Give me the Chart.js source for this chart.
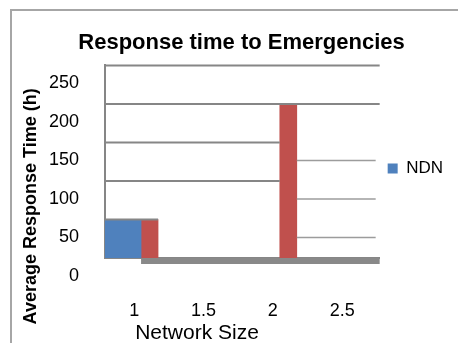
<!DOCTYPE html>
<html lang="en">
<head>
<meta charset="UTF-8">
<title>Response time to Emergencies</title>
<script src="https://cdn.jsdelivr.net/npm/chart.js"></script>
<style>
  body { margin: 0; background: #fff; }
  #wrap { position: relative; width: 458px; height: 343px; overflow: hidden; }
  #frame {
    position: absolute; left: 10px; top: 9px; right: -10px; bottom: -10px;
    border: 2px solid #a6a6a6; pointer-events: none;
  }
</style>
</head>
<body>

<div id="wrap">
  <canvas id="chart" width="458" height="343"></canvas>
  <div id="frame"></div>
</div>

<script>
  // data
  const xTicks = [1, 1.5, 2, 2.5];
  const yTicks = [0, 50, 100, 150, 200, 250];
  const ndnX = [1.05];
  const ndnY = [50];
  const otherX = [1.05, 2.05];
  const otherY = [50, 200];

  const chartTitle = 'Response time to Emergencies';
  const xTitle = 'Network Size';
  const yTitle = 'Average Response Time (h)';

  const FONT = '"Liberation Sans", Arial, sans-serif';
  const GRID = '#868686';
  const DEPTH = 18; // the labels and back gridlines sit lower than the front ones

  Chart.defaults.font.family = FONT;
  Chart.defaults.color = '#000';

  // the odd split gridlines and floor of the original 3d chart
  const brokenGrid = {
    id: 'brokenGrid',
    afterDatasetsDraw(chart) {
      const { ctx, chartArea: a, scales: { y } } = chart;
      const blue = chart.getDatasetMeta(0).data;
      const red = chart.getDatasetMeta(1).data;
      const lft = b => b.x - b.width / 2;
      const rgt = b => b.x + b.width / 2;

      ctx.save();
      // floor
      ctx.fillStyle = '#898989';
      ctx.fillRect(rgt(blue[0]), a.bottom, a.right - rgt(blue[0]), 6);

      // front gridlines
      const front = [
        [250, a.left, a.right],
        [200, a.left, a.right],
        [150, a.left, lft(red[1])],
        [100, a.left, lft(red[1])],
        [50, a.left, rgt(red[0])]
      ];
      ctx.strokeStyle = GRID;
      ctx.lineWidth = 2;
      front.forEach(([v, x0, x1]) => {
        const py = y.getPixelForValue(v);
        ctx.beginPath();
        ctx.moveTo(x0, py);
        ctx.lineTo(x1, py);
        ctx.stroke();
      });

      // back gridlines
      ctx.strokeStyle = '#9c9c9c';
      ctx.lineWidth = 1.5;
      [150, 100, 50].forEach(v => {
        const py = y.getPixelForValue(v) + DEPTH;
        ctx.beginPath();
        ctx.moveTo(rgt(red[1]), py);
        ctx.lineTo(a.right - 4, py);
        ctx.stroke();
      });
      ctx.restore();
    },
    afterDraw(chart) {
      const { ctx, chartArea: a } = chart;
      ctx.save();
      ctx.fillStyle = '#000';
      ctx.textAlign = 'center';
      ctx.textBaseline = 'middle';
      ctx.font = '21px ' + FONT;
      ctx.fillText(xTitle, a.left + 92, a.bottom + 75);
      ctx.font = 'bold 18px ' + FONT;
      ctx.translate(a.left - 74, a.top + 141);
      ctx.rotate(-Math.PI / 2);
      ctx.fillText(yTitle, 0, 0);
      ctx.restore();
    }
  };

  new Chart(document.getElementById('chart'), {
    type: 'bar',
    data: {
      datasets: [{
        label: 'NDN',
        data: ndnX.map((x, i) => ({ x: x, y: ndnY[i] })),
        backgroundColor: '#4F81BD',
        borderWidth: 0,
        barThickness: 36
      }, {
        label: 'Series2',
        data: otherX.map((x, i) => ({ x: x, y: otherY[i] })),
        backgroundColor: '#C0504D',
        borderWidth: 0,
        barThickness: 17
      }]
    },
    options: {
      responsive: false,
      animation: false,
      layout: { padding: { left: 30, right: 5, top: 20, bottom: 0 } },
      plugins: {
        title: {
          display: true,
          text: chartTitle,
          font: { size: 22, weight: 'bold' },
          padding: { top: 10, bottom: 9 }
        },
        legend: {
          position: 'right',
          align: 'start',
          // empty title only used to push the single entry down
          title: { display: true, text: '', font: { size: 10 }, padding: { top: 120, bottom: 0 } },
          labels: {
            boxWidth: 10,
            boxHeight: 10,
            padding: 8,
            font: { size: 17 },
            filter: item => item.datasetIndex === 0
          }
        },
        tooltip: { enabled: false }
      },
      scales: {
        x: {
          type: 'linear',
          offset: false,
          min: 0.79,
          max: 2.77,
          afterBuildTicks: s => { s.ticks = xTicks.map(v => ({ value: v })); },
          afterFit: s => { s.height = 85; },
          ticks: { font: { size: 18 }, padding: 42, callback: v => String(v) },
          grid: { display: false, drawTicks: false },
          border: { display: true, color: GRID, width: 2 }
        },
        y: {
          min: 0,
          max: 250,
          afterBuildTicks: s => { s.ticks = yTicks.map(v => ({ value: v })); },
          afterFit: s => { s.width = 75; },
          ticks: { font: { size: 18 }, padding: 26, labelOffset: DEPTH },
          grid: { display: false, drawTicks: false },
          border: { display: true, color: GRID, width: 2 }
        }
      }
    },
    plugins: [brokenGrid]
  });
</script>

</body>
</html>
